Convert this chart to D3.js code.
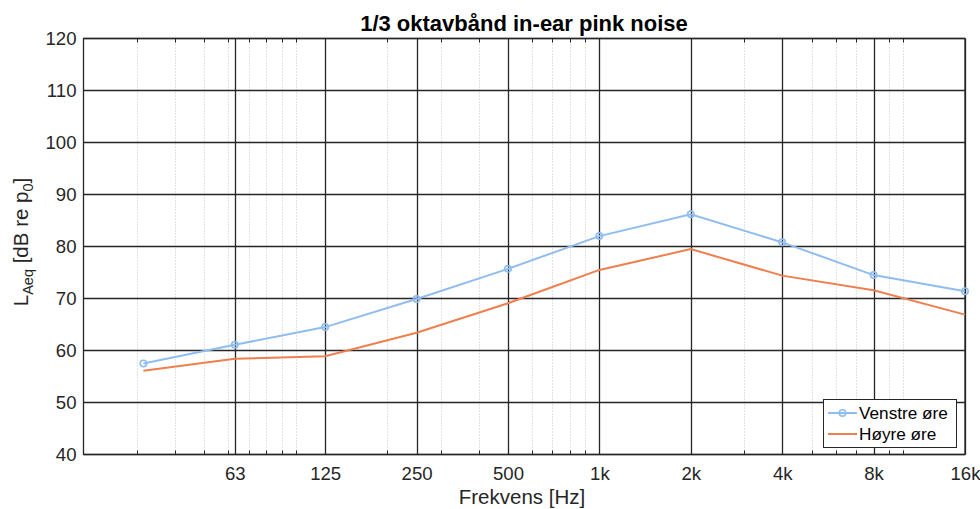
<!DOCTYPE html>
<html>
<head>
<meta charset="utf-8">
<script src="https://cdn.jsdelivr.net/npm/d3@7"></script>
<style>
  html, body { margin: 0; padding: 0; background: #fff; }
  svg { display: block; font-family: "Liberation Sans", Arial, Helvetica, sans-serif; }
</style>
</head>
<body>
<svg id="chart" width="980" height="509"></svg>
<script>
// Third-octave band centre frequencies (Hz) measured
const freqs = [31.5, 63, 125, 250, 500, 1000, 2000, 4000, 8000, 16000];
// In-ear levels, dB
const leftEar  = [57.5, 61.1, 64.5, 69.9, 75.7, 82.0, 86.2, 80.8, 74.5, 71.4];
const rightEar = [56.1, 58.4, 58.9, 63.4, 69.1, 75.5, 79.5, 74.4, 71.6, 66.9];
const seriesNames = ["Venstre øre", "Høyre øre"];

// Axis ticks
const xMajorTicks = [63, 125, 250, 500, 1000, 2000, 4000, 8000, 16000];
const xMajorLabels = ["63", "125", "250", "500", "1k", "2k", "4k", "8k", "16k"];
const xMinorTicks = [30, 40, 50, 60, 70, 80, 90, 100, 200, 300, 400, 600, 700, 800, 900,
                     3000, 5000, 6000, 7000, 9000, 10000];
const yTicks = [40, 50, 60, 70, 80, 90, 100, 110, 120];

const svg = d3.select("#chart");
const m = { left: 83.5, right: 965, top: 38.5, bottom: 454.5 };

const x = d3.scaleLog().domain([20, 16000]).range([m.left, m.right]);
const y = d3.scaleLinear().domain([40, 120]).range([m.bottom, m.top]);

const axisColor = "#262626";
const blue = "#8fbdef";
const orange = "#ee7f4e";

// minor (dotted) grid
const g = svg.append("g");
g.selectAll("line.minor").data(xMinorTicks).join("line")
  .attr("x1", d => Math.round(x(d)) + 0.5).attr("x2", d => Math.round(x(d)) + 0.5)
  .attr("y1", m.top).attr("y2", m.bottom)
  .attr("stroke", "#c4c4c4").attr("stroke-width", 1).attr("stroke-dasharray", "1,2");

// major grid
g.selectAll("line.vmaj").data(xMajorTicks).join("line")
  .attr("x1", d => Math.round(x(d)) + 0.5).attr("x2", d => Math.round(x(d)) + 0.5)
  .attr("y1", m.top).attr("y2", m.bottom)
  .attr("stroke", axisColor).attr("stroke-width", 1.3);
g.selectAll("line.hmaj").data(yTicks).join("line")
  .attr("x1", m.left).attr("x2", m.right)
  .attr("y1", d => y(d)).attr("y2", d => y(d))
  .attr("stroke", axisColor).attr("stroke-width", 1.3);

// minor tick marks (inward, top and bottom)
[[m.bottom, -4], [m.top, 4]].forEach(([y0, len]) => {
  g.selectAll(null).data(xMinorTicks).join("line")
    .attr("x1", d => Math.round(x(d)) + 0.5).attr("x2", d => Math.round(x(d)) + 0.5)
    .attr("y1", y0).attr("y2", y0 + len)
    .attr("stroke", axisColor).attr("stroke-width", 1);
});

// axis box
svg.append("rect")
  .attr("x", m.left).attr("y", m.top)
  .attr("width", m.right - m.left).attr("height", m.bottom - m.top)
  .attr("fill", "none").attr("stroke", axisColor).attr("stroke-width", 1.3);

// tick labels via d3 axes
const xAxis = d3.axisBottom(x).tickValues(xMajorTicks)
  .tickFormat((d, i) => xMajorLabels[i]).tickSize(0).tickPadding(12);
const xa = svg.append("g").attr("transform", `translate(0,${m.bottom})`).call(xAxis);
xa.select(".domain").remove();
xa.selectAll("text").attr("font-size", 18.6).attr("fill", axisColor)
  .attr("font-family", "Liberation Sans, Arial, sans-serif");

const yAxis = d3.axisLeft(y).tickValues(yTicks).tickSize(0).tickPadding(7);
const ya = svg.append("g").attr("transform", `translate(${m.left},0)`).call(yAxis);
ya.select(".domain").remove();
ya.selectAll("text").attr("font-size", 18.6).attr("fill", axisColor)
  .attr("font-family", "Liberation Sans, Arial, sans-serif");

// series lines
const line = d3.line().x((d, i) => x(freqs[i])).y(d => y(d));
svg.append("path").datum(leftEar).attr("d", line)
  .attr("fill", "none").attr("stroke", blue).attr("stroke-width", 2);
svg.selectAll("circle.left").data(leftEar).join("circle")
  .attr("cx", (d, i) => x(freqs[i])).attr("cy", d => y(d)).attr("r", 3.2)
  .attr("fill", "none").attr("stroke", blue).attr("stroke-width", 1.6);
svg.append("path").datum(rightEar).attr("d", line)
  .attr("fill", "none").attr("stroke", orange).attr("stroke-width", 2);

// legend
const lg = svg.append("g");
lg.append("rect").attr("x", 823.5).attr("y", 399.5).attr("width", 133).attr("height", 48)
  .attr("fill", "#fff").attr("stroke", axisColor).attr("stroke-width", 1);
[[blue, true], [orange, false]].forEach(([c, mk], i) => {
  const yy = 413 + i * 21;
  lg.append("line").attr("x1", 828).attr("x2", 857).attr("y1", yy).attr("y2", yy)
    .attr("stroke", c).attr("stroke-width", 2);
  if (mk) lg.append("circle").attr("cx", 842.5).attr("cy", yy).attr("r", 3.2)
    .attr("fill", "none").attr("stroke", c).attr("stroke-width", 1.6);
  lg.append("text").attr("x", 859).attr("y", yy + 6).attr("font-size", 17.2)
    .attr("fill", "#000").text(seriesNames[i]);
});

// title
svg.append("text").attr("x", 524).attr("y", 31).attr("text-anchor", "middle")
  .attr("font-size", 22).attr("font-weight", "bold").attr("fill", "#000")
  .text("1/3 oktavbånd in-ear pink noise");

// x label
svg.append("text").attr("x", 522).attr("y", 504).attr("text-anchor", "middle")
  .attr("font-size", 20.5).attr("fill", axisColor).text("Frekvens [Hz]");

// y label with subscripts
const yl = svg.append("text").attr("transform", "translate(28,242) rotate(-90)")
  .attr("text-anchor", "middle").attr("font-size", 20.5).attr("fill", axisColor);
yl.append("tspan").text("L");
yl.append("tspan").attr("dy", 5).attr("font-size", 14.5).text("Aeq");
yl.append("tspan").attr("dy", -5).text(" [dB re p");
yl.append("tspan").attr("dy", 5).attr("font-size", 14.5).text("0");
yl.append("tspan").attr("dy", -5).text("]");
</script>
</body>
</html>
